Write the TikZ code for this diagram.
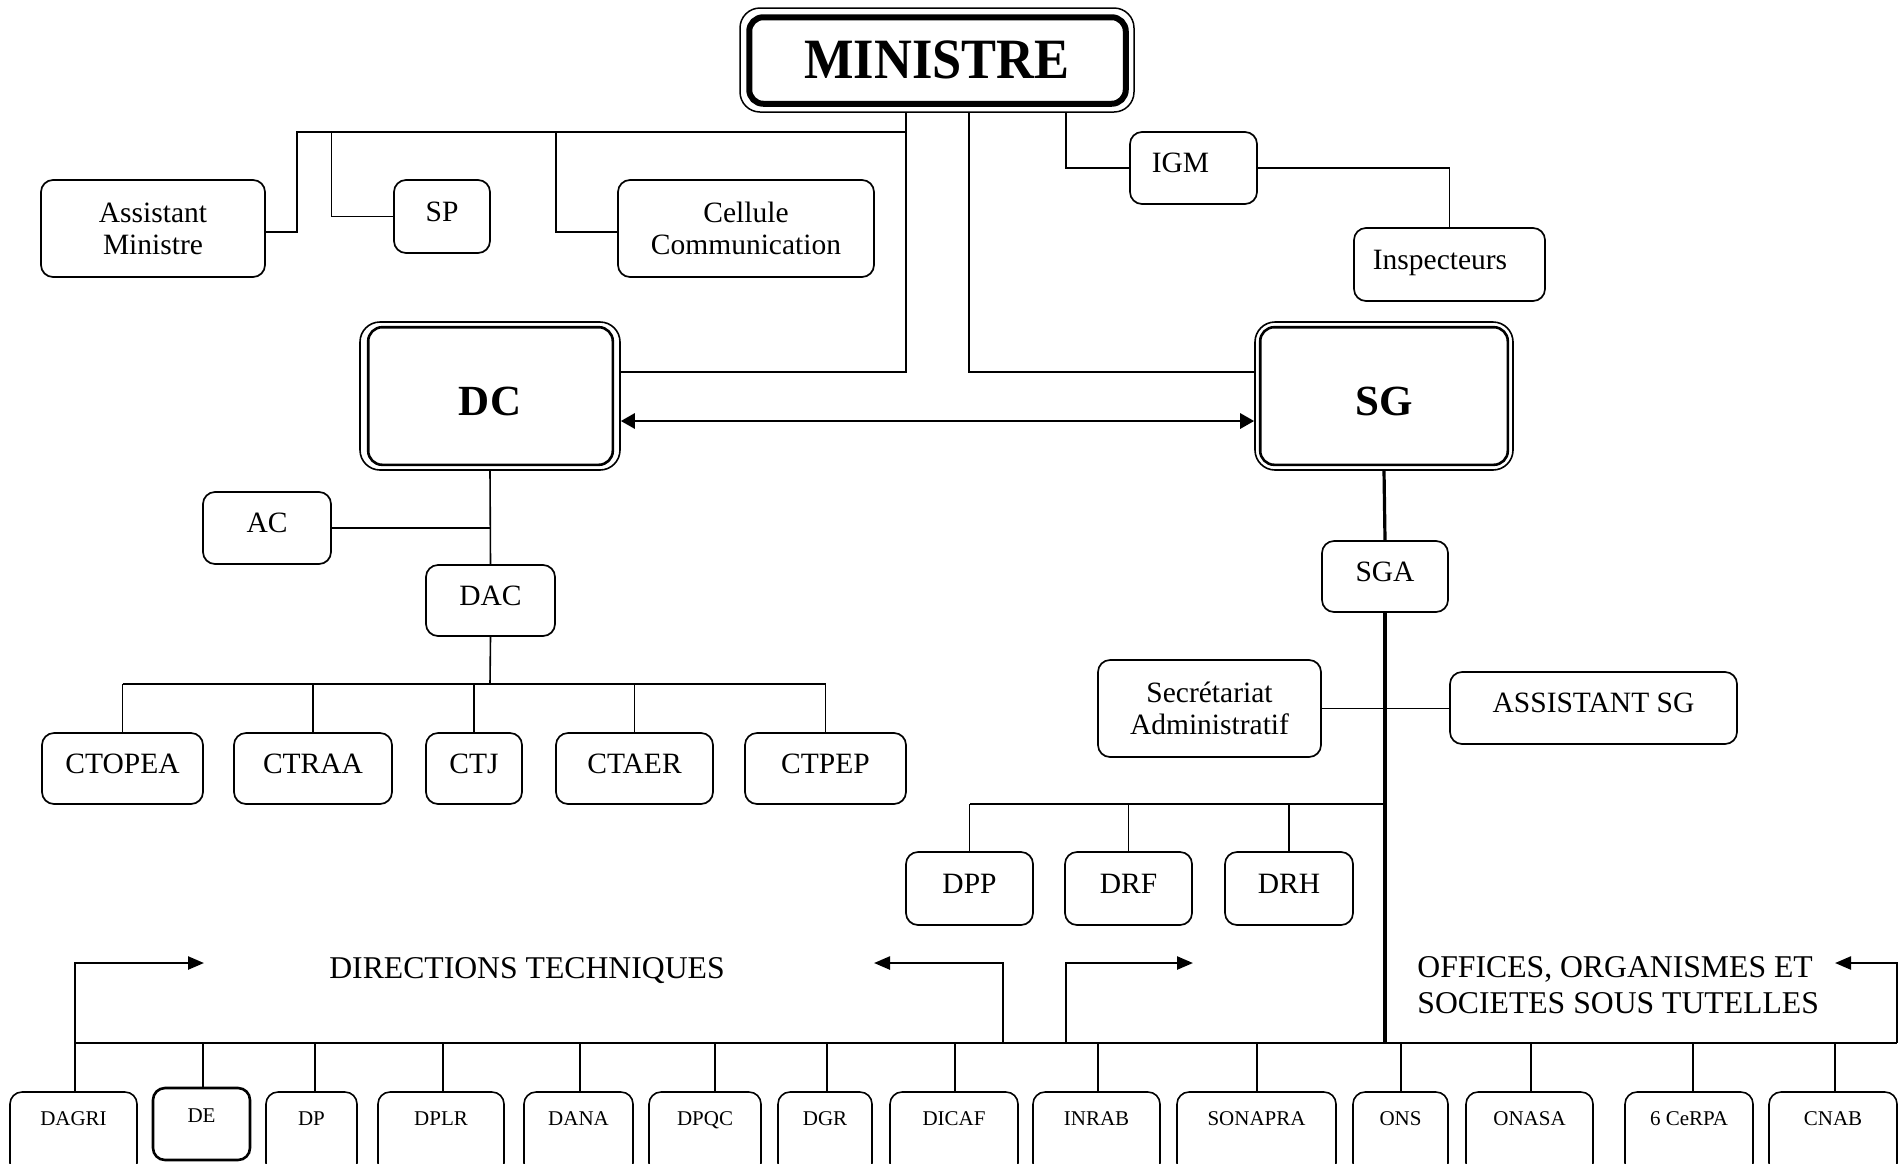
\documentclass[tikz,border=0pt]{standalone}
\usepackage{fontspec}
\setmainfont{Liberation Serif}
\usepackage{graphicx}
\usetikzlibrary{arrows.meta,calc}
\newcommand\mkbox[7]{\node[#1,minimum width={(#5-#3)*0.5pt},minimum height={(#6-#4)*0.5pt}] (#2) at ({(#3+#5)/2},{(#4+#6)/2}) {#7};}
\begin{document}
\begin{tikzpicture}[x=0.5pt,y=-0.5pt,
  conn/.style={line width=0.8pt},
  bus/.style={line width=1pt},
  thk/.style={line width=1.6pt},
  box/.style={draw, line width=0.85pt, rounded corners=6pt, inner sep=0pt, align=center, font=\fontsize{14.75}{16}\selectfont},
  sbox/.style={box, text height=10pt, text depth=5.25pt},
  bbox/.style={draw, line width=0.8pt, rounded corners=6pt, inner sep=0pt, font=\fontsize{10.5}{12}\selectfont, text height=7.5pt, text depth=16pt},
  bigbox/.style={draw, line width=0.8pt, rounded corners=10pt, inner sep=0pt, font=\fontsize{21.5}{24}\selectfont\bfseries, text height=19.5pt, text depth=0pt},
  tarrow/.style={line width=1.2pt, -{Triangle[length=8pt,width=6.5pt]}},
  biarrow/.style={line width=1.4pt, {Triangle[length=7pt,width=7.5pt]}-{Triangle[length=7pt,width=7.5pt]}},
  lbl/.style={inner sep=0pt, font=\fontsize{15.85}{18}\selectfont}
]
\clip (0,0) rectangle (1904,1163);
\fill[white] (0,0) rectangle (1904,1163);

% ---- MINISTRE ----
\node[draw, line width=0.75pt, rounded corners=10pt, inner sep=0pt,
  minimum width=197pt, minimum height=52pt,
  font=\fontsize{28.5}{30}\selectfont\bfseries] (ministre) at (937,60) {\scalebox{0.92}[1]{MINISTRE}};
\draw[line width=3pt, rounded corners=7pt] ([shift={(10,10)}]ministre.north west) rectangle ([shift={(-9,-9)}]ministre.south east);

% ---- top boxes ----
\mkbox{box}{am}{41}{180}{265}{277}{Assistant\\Ministre}
\mkbox{sbox}{sp}{394}{180}{490}{253}{SP}
\mkbox{box}{cc}{618}{180}{874}{277}{Cellule\\Communication}
\mkbox{sbox}{igm}{1130}{132}{1257}{204}{IGM\hspace*{13pt}}
\mkbox{sbox}{insp}{1354}{228}{1545}{301}{Inspecteurs\hspace*{9.5pt}}

% ---- DC / SG ----
\mkbox{bigbox}{dc}{360}{322}{620}{470}{DC}
\draw[line width=1.3pt, rounded corners=7pt] ([shift={(9,6)}]dc.north west) rectangle ([shift={(-8,-6)}]dc.south east);
\mkbox{bigbox}{sg}{1255}{322}{1513}{470}{SG}
\draw[line width=1.3pt, rounded corners=7pt] ([shift={(6,6)}]sg.north west) rectangle ([shift={(-6,-6)}]sg.south east);

% ---- DC subtree ----
\mkbox{sbox}{ac}{203}{492}{331}{564}{AC}
\mkbox{sbox}{dac}{426}{565}{555}{636}{DAC}
\mkbox{sbox}{ctopea}{42}{733}{203}{804}{CTOPEA}
\mkbox{sbox}{ctraa}{234}{733}{392}{804}{CTRAA}
\mkbox{sbox}{ctj}{426}{733}{522}{804}{CTJ}
\mkbox{sbox}{ctaer}{556}{733}{713}{804}{CTAER}
\mkbox{sbox}{ctpep}{745}{733}{906}{804}{CTPEP}

% ---- SG subtree ----
\mkbox{sbox}{sga}{1322}{541}{1448}{612}{SGA}
\mkbox{box}{secr}{1098}{660}{1321}{757}{Secrétariat\\Administratif}
\mkbox{sbox}{asg}{1450}{672}{1737}{744}{ASSISTANT SG}
\mkbox{sbox}{dpp}{906}{852}{1033}{925}{DPP}
\mkbox{sbox}{drf}{1065}{852}{1192}{925}{DRF}
\mkbox{sbox}{drh}{1225}{852}{1353}{925}{DRH}

% ---- bottom row ----
\mkbox{bbox}{dagri}{10}{1092}{137}{1175}{DAGRI}
\mkbox{bbox,line width=1.3pt,text depth=9.5pt}{de}{153}{1088}{250}{1160}{DE}
\mkbox{bbox}{dp}{266}{1092}{357}{1175}{DP}
\mkbox{bbox}{dplr}{378}{1092}{504}{1175}{DPLR}
\mkbox{bbox}{dana}{524}{1092}{633}{1175}{DANA}
\mkbox{bbox}{dpqc}{649}{1092}{761}{1175}{DPQC}
\mkbox{bbox}{dgr}{778}{1092}{872}{1175}{DGR}
\mkbox{bbox}{dicaf}{890}{1092}{1018}{1175}{DICAF}
\mkbox{bbox}{inrab}{1033}{1092}{1160}{1175}{INRAB}
\mkbox{bbox}{sonapra}{1177}{1092}{1336}{1175}{SONAPRA}
\mkbox{bbox}{ons}{1353}{1092}{1448}{1175}{ONS}
\mkbox{bbox}{onasa}{1466}{1092}{1593}{1175}{ONASA}
\mkbox{bbox}{cerpa}{1625}{1092}{1753}{1175}{6 CeRPA}
\mkbox{bbox}{cnab}{1769}{1092}{1897}{1175}{CNAB}

% ---- labels ----
\node[lbl, anchor=base] (dt) at (527,978) {DIRECTIONS TECHNIQUES};
\node[lbl, anchor=west, align=left] (oost) at (1417,985) {OFFICES, ORGANISMES ET\\SOCIETES SOUS TUTELLES};

% ---- coordinates ----
\coordinate (ja) at (297,132);
\coordinate (jsp) at (331.5,132);
\coordinate (jcc) at (556,132);
\coordinate (jm) at (906,132);
\coordinate (j2) at (1385,804);
\coordinate (jct) at (490,684);
\coordinate (busL) at (75,1043);
\coordinate (busR) at (1897,1043);
\coordinate (b2) at (1003,1043);
\coordinate (b3) at (1066,1043);
\coordinate (t1) at (204,963);
\coordinate (t2) at (874,963);
\coordinate (t3) at (1193,963);
\coordinate (t4) at (1835,963);

% ---- connectors from MINISTRE ----
\draw[conn] (ministre.south -| 906,0) |- ([yshift=12pt]dc.east);
\draw[conn] ([yshift=-1.75pt]am.east) -| (ja) -- (jm);
\draw[conn] (sp.west) -| (jsp);
\draw[conn] ([yshift=-1.75pt]cc.west) -| (jcc);
\draw[conn] (ministre.south -| 969,0) |- ([yshift=12pt]sg.west);
\draw[conn] (ministre.south -| 1066,0) |- (igm.west);
\draw[conn] (igm.east) -| (insp.north);

% ---- DC <-> SG ----
\draw[biarrow] ([yshift=-12.5pt]dc.east) -- ([yshift=-12.5pt]sg.west);

% ---- DC subtree ----
\draw[conn] (dc.south) -- (dac.north);
\draw[conn] (ac.east) -- (ac.east -| dac.north);
\draw[conn] (dac.south) -- (jct);
\draw[bus] (ctopea.north |- jct) -- (ctpep.north |- jct);
\foreach \n in {ctopea,ctraa,ctj,ctaer,ctpep}
  \draw[conn] (\n.north |- jct) -- (\n.north);

% ---- SG subtree ----
\draw[thk] (sg.south) -- (sga.north);
\draw[thk] (sga.south) -- (sga.south |- busL);
\draw[conn] (secr.east) -- (secr.east -| asg.west);
\draw[bus] (j2) -- (dpp.north |- j2);
\foreach \n in {dpp,drf,drh}
  \draw[conn] (\n.north |- j2) -- (\n.north);

% ---- bottom bus ----
\draw[bus, line width=1.2pt] (busL) -- (busR);
\foreach \n/\x in {dagri/75,de/203,dp/315,dplr/443,dana/580,dpqc/715,dgr/827,dicaf/955,inrab/1098,sonapra/1257,ons/1401,onasa/1531,cerpa/1693,cnab/1835}
  \draw[conn] (\x,1043) -- (\n.north -| \x,0);
\draw[tarrow] (busL) |- (t1);
\draw[tarrow] (b2) |- (t2);
\draw[tarrow] (b3) |- (t3);
\draw[tarrow] (busR) |- (t4);
\end{tikzpicture}
\end{document}
